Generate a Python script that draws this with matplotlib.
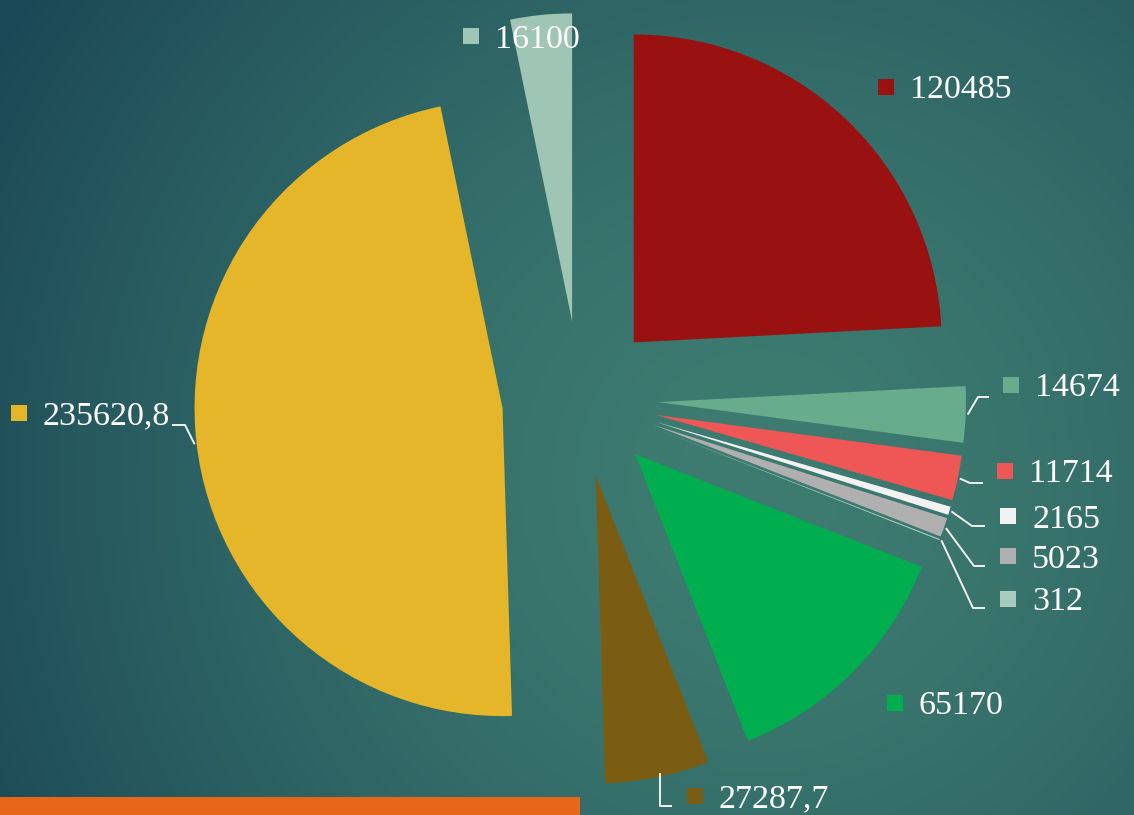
import numpy as np
import matplotlib
matplotlib.use("Agg")
import matplotlib.pyplot as plt
from matplotlib.patches import Rectangle

# ---- data (clockwise from 12 o'clock) ----
values = [120485, 14674, 11714, 2165, 5023, 312, 65170, 27287.7, 235620.8, 16100]
labels = ["120485", "14674", "11714", "2165", "5023", "312", "65170", "27287,7", "235620,8", "16100"]
colors = ["#9A1111", "#66AC8D", "#EF5656", "#F2F2F2", "#B0B0B0", "#A8CDBE",
          "#00AE4F", "#7A5D12", "#E5B629", "#9FC5B4"]

# ---- layout (pixel coordinates) ----
W, H = 1134, 815
center = (580, 399)
radius = 308
explode_dist = 78

# label square centre
label_pos = {
    "120485": (886, 87),
    "14674": (1011, 385),
    "11714": (1005, 471),
    "2165": (1008, 516),
    "5023": (1008, 556),
    "312": (1008, 599),
    "65170": (895, 703),
    "27287,7": (695, 796),
    "235620,8": (19, 413),
    "16100": (471, 36),
}
# leader line: elbow and end (start computed from wedge)
leaders = {
    "14674": [(978, 397), (989, 397)],
    "11714": [(970, 483), (983, 483)],
    "2165": [(972, 526), (985, 526)],
    "5023": [(974, 566), (985, 566)],
    "312": [(973, 608), (985, 608)],
    "235620,8": [(185, 425), (172, 425)],
    "27287,7": [(660, 806), (672, 806)],
}

fig = plt.figure(figsize=(W / 100, H / 100), dpi=100)
ax = fig.add_axes([0, 0, 1, 1])

# background gradient
yy, xx = np.mgrid[0:H, 0:W]
d = np.hypot(xx - 760, yy - 480) / 880.0
t = np.clip(d, 0, 1) ** 1.5
light = np.array([62, 124, 113]) / 255.0
dark = np.array([27, 72, 86]) / 255.0
img = light[None, None, :] + (dark - light)[None, None, :] * t[..., None]
ax.imshow(img, extent=(0, W, H, 0), zorder=0, interpolation="bilinear")

# orange bar
ax.add_patch(Rectangle((0, 797), 580, 20, color="#E8661A", zorder=1, lw=0))

wedges, _ = ax.pie(values, colors=colors, startangle=-90, counterclock=True,
                   radius=radius, center=center,
                   explode=[explode_dist] * len(values),
                   wedgeprops=dict(linewidth=0), frame=True)
for w in wedges:
    w.set_zorder(2)
ax.set_xlim(0, W)
ax.set_ylim(H, 0)
ax.set_aspect("equal")
ax.axis("off")

# leader lines
for w, lab in zip(wedges, labels):
    if lab in leaders:
        th = np.deg2rad((w.theta1 + w.theta2) / 2)
        cx, cy = w.center
        if lab == "27287,7":
            x0 = leaders[lab][0][0]
            # point just below the wedge arc at this x
            sy = cy + np.sqrt(max(w.r ** 2 - (x0 - cx) ** 2, 0)) - 4
            sx = x0
        else:
            sx = cx + (w.r + 2) * np.cos(th)
            sy = cy + (w.r + 2) * np.sin(th)
        pts = [(sx, sy)] + leaders[lab]
        ax.plot([p[0] for p in pts], [p[1] for p in pts], color="#F0F0F0",
                lw=1.4, zorder=3, solid_capstyle="butt")

# labels
sq = 16
for lab, col in zip(labels, colors):
    x, y = label_pos[lab]
    ax.add_patch(Rectangle((x - sq / 2, y - sq / 2), sq, sq, color=col, lw=0, zorder=4))
    ax.text(x + 24, y + 11.5, lab, color="white", fontsize=24.5,
            family=["Liberation Serif", "DejaVu Serif"], va="baseline", ha="left", zorder=5)

fig.savefig("out.png", dpi=100)
